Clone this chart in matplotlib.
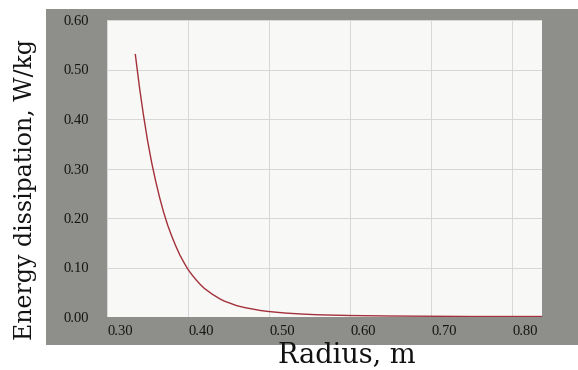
import matplotlib
matplotlib.use("Agg")
import matplotlib.pyplot as plt
from matplotlib.patches import Rectangle

# Data
radius = [0.335, 0.340, 0.345, 0.350, 0.355, 0.360, 0.365, 0.370, 0.375, 0.380,
          0.385, 0.390, 0.395, 0.400, 0.405, 0.410, 0.415, 0.420, 0.425, 0.430,
          0.435, 0.440, 0.445, 0.450, 0.460, 0.470, 0.480, 0.490, 0.500, 0.520,
          0.540, 0.560, 0.600, 0.650, 0.700, 0.750, 0.800, 0.837]
dissipation = [0.530, 0.465, 0.408, 0.357, 0.313, 0.275, 0.241, 0.211, 0.185, 0.163,
               0.143, 0.125, 0.110, 0.096, 0.085, 0.075, 0.066, 0.058, 0.052, 0.046,
               0.041, 0.036, 0.032, 0.029, 0.023, 0.019, 0.016, 0.013, 0.011, 0.008,
               0.006, 0.0045, 0.003, 0.002, 0.0015, 0.001, 0.001, 0.001]
x_ticks = [0.30, 0.40, 0.50, 0.60, 0.70, 0.80]
x_tick_labels = ["0.30", "0.40", "0.50", "0.60", "0.70", "0.80"]
y_ticks = [0.00, 0.10, 0.20, 0.30, 0.40, 0.50, 0.60]
y_tick_labels = ["0.00", "0.10", "0.20", "0.30", "0.40", "0.50", "0.60"]

W, H = 578, 370
fig = plt.figure(figsize=(W / 100, H / 100), dpi=100)
fig.patch.set_facecolor("white")

# gray panel behind the plot
fig.patches.append(Rectangle((46 / W, 1 - 345 / H), 1 - 46 / W, (345 - 9) / H,
                             transform=fig.transFigure, facecolor="#8e8e8a",
                             edgecolor="none", zorder=-5))

ax = fig.add_axes([107 / W, 1 - 317 / H, (542 - 107) / W, (317 - 20) / H])
ax.set_zorder(5)
ax.set_facecolor("#f8f8f7")
ax.plot(radius, dissipation, color="#a3303a", linewidth=1.0, zorder=3)

ax.set_xlim(0.30, 0.837)
ax.set_ylim(0.0, 0.60)
ax.set_xticks(x_ticks)
ax.set_xticklabels(x_tick_labels, ha="left", family="Liberation Serif",
                   fontsize=10.5, color="#151515")
ax.set_yticks(y_ticks)
ax.set_yticklabels(y_tick_labels, family="Liberation Serif",
                   fontsize=10.5, color="#151515")
ax.tick_params(axis="both", length=0)
ax.tick_params(axis="x", pad=6)
ax.tick_params(axis="y", pad=13)
ax.grid(True, color="#d6d6d6", linewidth=0.7)
ax.set_axisbelow(True)
for s in ax.spines.values():
    s.set_visible(False)

ax.set_xlabel("Radius, m", family="DejaVu Serif", fontsize=19.5, color="#111111",
              va="center", ha="center")
ax.xaxis.set_label_coords((347 - 107) / 435, (317 - 355) / 297)
ax.set_ylabel("Energy dissipation, W/kg", family="DejaVu Serif", fontsize=17,
              color="#111111", va="center", ha="center")
ax.yaxis.set_label_coords((26 - 107) / 435, (317 - 189) / 297)

fig.savefig("out.png", dpi=100, facecolor="white")
